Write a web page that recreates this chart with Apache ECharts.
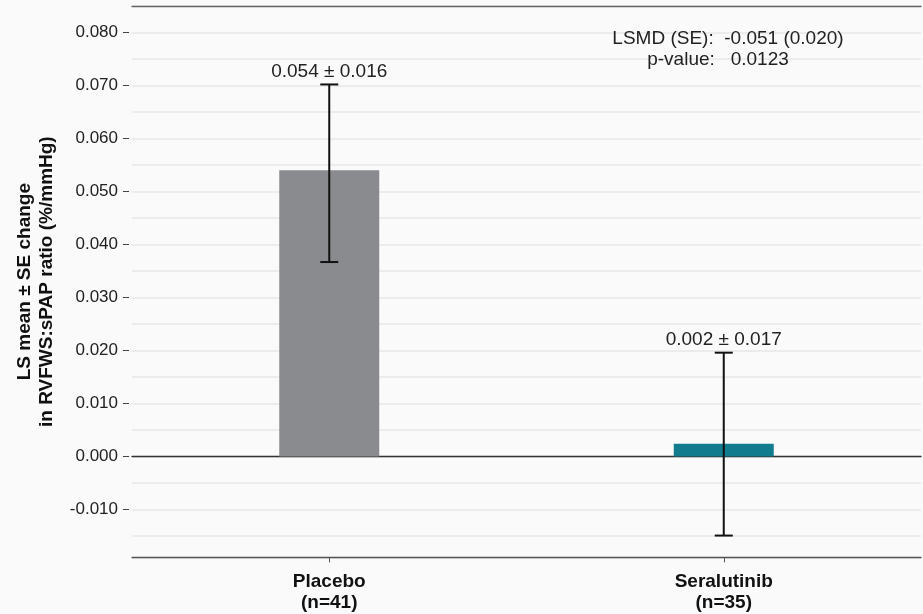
<!DOCTYPE html>
<html>
<head>
<meta charset="utf-8">
<script src="https://cdn.jsdelivr.net/npm/echarts@6/dist/echarts.min.js"></script>
<style>
  html, body { margin: 0; padding: 0; background: #fafafa; }
  #chart { width: 923px; height: 614px; }
</style>
</head>
<body>
<div id="chart"></div>
<script>
// data
var groups = ['Placebo\n(n=41)', 'Seralutinib\n(n=35)'];
var lsMean = [0.054, 0.0024];
var errLow = [0.0367, -0.0149];
var errHigh = [0.0702, 0.0196];
var valueText = ['0.054 \u00b1 0.016', '0.002 \u00b1 0.017'];
var yTicks = [-0.01, 0, 0.01, 0.02, 0.03, 0.04, 0.05, 0.06, 0.07, 0.08];
var yMin = -0.019;
var yMax = 0.085;
var barColors = ['#8a8b8f', '#127c8e'];

var FONT = '"Liberation Sans", Arial, Helvetica, sans-serif';

var chart = echarts.init(document.getElementById('chart'), null, { renderer: 'canvas' });

var barData = lsMean.map(function (v, i) {
  return { value: v, itemStyle: { color: barColors[i] } };
});
var errData = groups.map(function (g, i) {
  return [i, errLow[i], errHigh[i], valueText[i]];
});

var option = {
  backgroundColor: '#fafafa',
  animation: false,
  grid: [
    { left: 132, right: 2, top: 6, bottom: 56.7, outerBoundsMode: 'none', containLabel: false },
    { left: 132, right: 2, top: 6, bottom: 56.7, outerBoundsMode: 'none', containLabel: false }
  ],
  xAxis: [
    {
      // zero line
      type: 'category', gridIndex: 0, data: groups,
      axisLine: { show: true, onZero: true, lineStyle: { color: '#333', width: 1.3 } },
      axisTick: { show: false }, axisLabel: { show: false }, splitLine: { show: false }
    },
    {
      type: 'category', gridIndex: 1, data: groups, position: 'bottom',
      axisLine: { show: true, onZero: false, lineStyle: { color: '#555', width: 1.3 } },
      axisTick: { show: true, alignWithLabel: true, length: 5, lineStyle: { color: '#555' } },
      axisLabel: {
        margin: 14, color: '#111', fontFamily: FONT, fontWeight: 'bold',
        fontSize: 19, lineHeight: 21
      },
      splitLine: { show: false }
    },
    {
      type: 'category', gridIndex: 1, data: groups, position: 'top',
      axisLine: { show: true, onZero: false, lineStyle: { color: '#666', width: 1.3 } },
      axisTick: { show: false }, axisLabel: { show: false }
    }
  ],
  yAxis: [
    {
      type: 'value', gridIndex: 0, min: yMin, max: yMax,
      offset: 3,
      name: 'LS mean \u00b1 SE change\nin RVFWS:sPAP ratio (%/mmHg)',
      nameLocation: 'middle', nameGap: 71,
      nameTextStyle: {
        fontFamily: FONT, fontWeight: 'bold', fontSize: 19, lineHeight: 22, color: '#111'
      },
      axisLine: { show: false },
      axisTick: { show: true, length: 6, customValues: yTicks, lineStyle: { color: '#444', width: 1 } },
      axisLabel: {
        margin: 11, color: '#222', fontFamily: FONT, fontSize: 17, customValues: yTicks,
        formatter: function (v) { return v.toFixed(3); }
      },
      splitLine: { show: false }
    },
    {
      // gridlines every 0.005
      type: 'value', gridIndex: 1, min: yMin, max: yMax,
      splitNumber: 20, minInterval: 0.005, maxInterval: 0.005,
      axisLine: { show: false }, axisTick: { show: false }, axisLabel: { show: false },
      splitLine: { show: true, lineStyle: { color: '#e7e7e7', width: 1.5 } }
    }
  ],
  graphic: [
    {
      type: 'text', x: 728, y: 39, z: 100,
      style: {
        text: 'LSMD (SE):  -0.051 (0.020)', x: 0, y: 0,
        align: 'center', verticalAlign: 'middle',
        font: '19px ' + FONT, fill: '#222'
      }
    },
    {
      type: 'text', x: 718, y: 60, z: 100,
      style: {
        text: 'p-value:   0.0123', x: 0, y: 0,
        align: 'center', verticalAlign: 'middle',
        font: '19px ' + FONT, fill: '#222'
      }
    }
  ],
  series: [
    {
      type: 'bar', xAxisIndex: 0, yAxisIndex: 0,
      barWidth: 100, data: barData, z: 2
    },
    {
      type: 'custom', xAxisIndex: 0, yAxisIndex: 0, z: 5,
      data: errData,
      renderItem: function (params, api) {
        var i = api.value(0);
        var top = api.coord([i, api.value(2)]);
        var bot = api.coord([i, api.value(1)]);
        var w = 9;
        var ls = { stroke: '#111', lineWidth: 2 };
        return {
          type: 'group',
          children: [
            { type: 'line', shape: { x1: top[0], y1: top[1], x2: bot[0], y2: bot[1] }, style: ls },
            { type: 'line', shape: { x1: top[0] - w, y1: top[1], x2: top[0] + w, y2: top[1] }, style: ls },
            { type: 'line', shape: { x1: bot[0] - w, y1: bot[1], x2: bot[0] + w, y2: bot[1] }, style: ls },
            {
              type: 'text',
              style: {
                text: errData[params.dataIndex][3],
                x: top[0], y: top[1] - 3,
                align: 'center', verticalAlign: 'bottom',
                font: '19px ' + FONT, fill: '#222'
              }
            }
          ]
        };
      }
    }
  ]
};

chart.setOption(option);
</script>
</body>
</html>
